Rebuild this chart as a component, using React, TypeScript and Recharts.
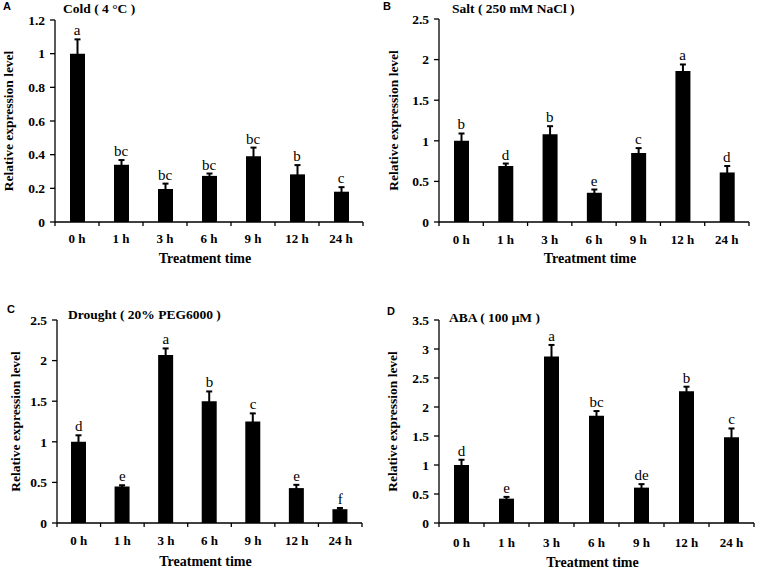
import { ComposedChart, Bar, Line, XAxis, YAxis, ErrorBar, LabelList } from "recharts";

const SERIF = '"Liberation Serif", "Times New Roman", serif';
const SANS = '"Liberation Sans", Arial, sans-serif';

const times = ["0 h", "1 h", "3 h", "6 h", "9 h", "12 h", "24 h"];

const coldMeans = [1.0, 0.34, 0.196, 0.274, 0.39, 0.283, 0.18];
const coldErr = [0.085, 0.028, 0.032, 0.014, 0.052, 0.055, 0.027];
const coldLetters = ["a", "bc", "bc", "bc", "bc", "b", "c"];
const coldTicks = [0, 0.2, 0.4, 0.6, 0.8, 1, 1.2];

const saltMeans = [1.0, 0.69, 1.08, 0.36, 0.85, 1.86, 0.61];
const saltErr = [0.09, 0.03, 0.1, 0.04, 0.06, 0.08, 0.08];
const saltLetters = ["b", "d", "b", "e", "c", "a", "d"];
const saltTicks = [0, 0.5, 1, 1.5, 2, 2.5];

const droughtMeans = [1.0, 0.45, 2.07, 1.5, 1.25, 0.43, 0.17];
const droughtErr = [0.08, 0.015, 0.08, 0.12, 0.1, 0.04, 0.015];
const droughtLetters = ["d", "e", "a", "b", "c", "e", "f"];
const droughtTicks = [0, 0.5, 1, 1.5, 2, 2.5];

const abaMeans = [1.0, 0.42, 2.87, 1.85, 0.61, 2.27, 1.48];
const abaErr = [0.09, 0.03, 0.2, 0.08, 0.06, 0.08, 0.15];
const abaLetters = ["d", "e", "a", "bc", "de", "b", "c"];
const abaTicks = [0, 0.5, 1, 1.5, 2, 2.5, 3, 3.5];

function buildRows(means: number[], errs: number[], letters: string[]) {
  return times.map((t, i) => ({
    time: t,
    mean: means[i],
    err: errs[i],
    top: means[i] + errs[i],
    letter: letters[i],
  }));
}

// x ticks sit on the category boundaries, labels in the middle
function makeTick(half: number, dy: number) {
  return (props: any) => {
    const { x, y, payload, index } = props;
    return (
      <g>
        {index === 0 && (
          <line x1={x - half} x2={x - half} y1={y} y2={y + 4} stroke="#000" strokeWidth={1.3} />
        )}
        <line x1={x + half} x2={x + half} y1={y} y2={y + 4} stroke="#000" strokeWidth={1.3} />
        <text
          x={x}
          y={y + dy}
          textAnchor="middle"
          style={{ fontFamily: SERIF, fontWeight: "bold", fontSize: 13 }}
          fill="#000"
        >
          {payload.value}
        </text>
      </g>
    );
  };
}

type PanelProps = {
  rows: ReturnType<typeof buildRows>;
  ticks: number[];
  left: number;
  top: number;
  margin: { top: number; right: number; bottom: number; left: number };
  yAxisWidth: number;
  xAxisHeight: number;
  tickDy: number;
  yLabelX: number;
};

const W = 380;
const H = 288;

function ExprPanel({ rows, ticks, left, top, margin, yAxisWidth, xAxisHeight, tickDy, yLabelX }: PanelProps) {
  const plotW = W - margin.left - margin.right - yAxisWidth;
  const half = plotW / times.length / 2;
  const axisStyle = { stroke: "#000", strokeWidth: 1.3 };
  return (
    <div style={{ position: "absolute", left, top, width: W, height: H, fontFamily: SERIF }}>
      <ComposedChart width={W} height={H} data={rows} margin={margin}>
        <XAxis
          dataKey="time"
          interval={0}
          tickSize={0}
          tickMargin={0}
          tickLine={false}
          axisLine={axisStyle}
          height={xAxisHeight}
          tick={makeTick(half, tickDy)}
          label={{
            value: "Treatment time",
            position: "insideBottom",
            offset: 4,
            dx: -4,
            style: { fontFamily: SERIF, fontWeight: "bold", fontSize: 14, fill: "#000" },
          }}
        />
        <YAxis
          domain={[0, ticks[ticks.length - 1]]}
          ticks={ticks}
          allowDataOverflow
          interval={0}
          width={yAxisWidth}
          tickSize={5}
          tickMargin={5}
          axisLine={axisStyle}
          tickLine={axisStyle}
          tick={{ style: { fontFamily: SERIF, fontWeight: "bold", fontSize: 13.5 }, fill: "#000" }}
          label={{
            value: "Relative expression level",
            angle: -90,
            position: "insideLeft",
            offset: yLabelX,
            style: { textAnchor: "middle", fontFamily: SERIF, fontWeight: "bold", fontSize: 13.5, fill: "#000" },
          }}
        />
        <Bar dataKey="mean" fill="#000" barSize={15} isAnimationActive={false}>
          <ErrorBar dataKey="err" direction="y" width={3} stroke="#000" strokeWidth={2} isAnimationActive={false} />
        </Bar>
        <Line dataKey="top" stroke="none" dot={false} activeDot={false} isAnimationActive={false}>
          <LabelList
            dataKey="letter"
            position="top"
            offset={4}
            style={{ fontFamily: SERIF, fontSize: 15, fill: "#000" }}
          />
        </Line>
      </ComposedChart>
    </div>
  );
}

const titleStyle = { fontFamily: SERIF, fontWeight: "bold" as const, fontSize: 13.5 };
const letterStyle = { fontFamily: SANS, fontWeight: "bold" as const, fontSize: 11 };

export default function App() {
  return (
    <div style={{ position: "absolute", left: 0, top: 0, width: 760, height: 573, background: "#fff" }}>
      <ExprPanel
        rows={buildRows(coldMeans, coldErr, coldLetters)}
        ticks={coldTicks}
        left={0}
        top={0}
        margin={{ top: 20, right: 17, bottom: 21, left: 0 }}
        yAxisWidth={55}
        xAxisHeight={45}
        tickDy={21}
        yLabelX={8}
      />
      <ExprPanel
        rows={buildRows(saltMeans, saltErr, saltLetters)}
        ticks={saltTicks}
        left={380}
        top={0}
        margin={{ top: 19, right: 11, bottom: 21, left: 0 }}
        yAxisWidth={59}
        xAxisHeight={45}
        tickDy={21.5}
        yLabelX={13}
      />
      <ExprPanel
        rows={buildRows(droughtMeans, droughtErr, droughtLetters)}
        ticks={droughtTicks}
        left={0}
        top={285}
        margin={{ top: 35, right: 18, bottom: 3, left: 0 }}
        yAxisWidth={57}
        xAxisHeight={47}
        tickDy={22}
        yLabelX={15}
      />
      <ExprPanel
        rows={buildRows(abaMeans, abaErr, abaLetters)}
        ticks={abaTicks}
        left={380}
        top={285}
        margin={{ top: 35, right: 6, bottom: 2, left: 0 }}
        yAxisWidth={59}
        xAxisHeight={48}
        tickDy={24}
        yLabelX={12}
      />
      <svg
        width={760}
        height={573}
        style={{ position: "absolute", left: 0, top: 0, pointerEvents: "none" }}
      >
        <text x={3} y={10} style={letterStyle}>A</text>
        <text x={383} y={10} style={letterStyle}>B</text>
        <text x={7} y={313} style={letterStyle}>C</text>
        <text x={387} y={315} style={letterStyle}>D</text>
        <text x={63} y={13} style={titleStyle}>Cold  ( 4 °C )</text>
        <text x={452} y={12.5} style={titleStyle}>Salt ( 250 mM NaCl )</text>
        <text x={68} y={319} style={titleStyle}>Drought ( 20% PEG6000 )</text>
        <text x={449} y={322} style={titleStyle}>ABA ( 100 μM )</text>
      </svg>
    </div>
  );
}
